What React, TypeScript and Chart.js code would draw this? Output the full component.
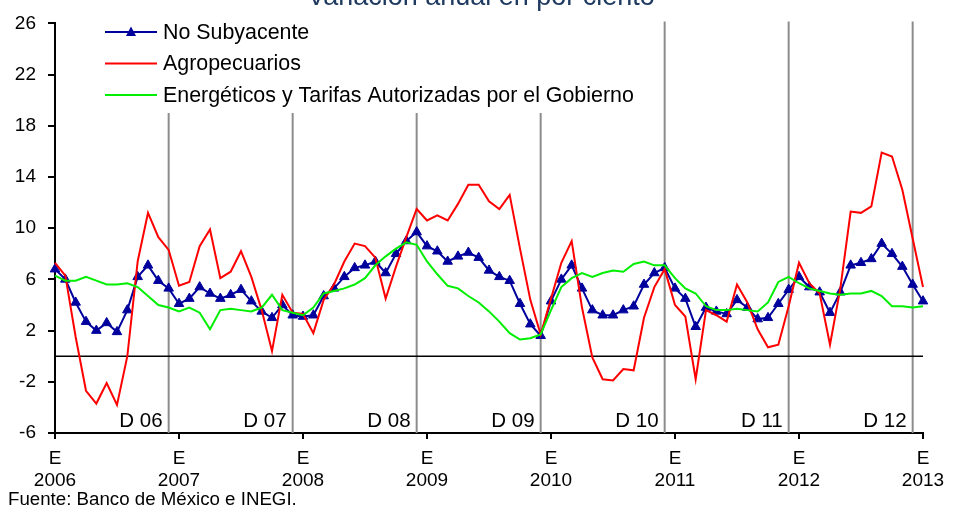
import React, { useEffect, useRef } from "react";
import { Chart, registerables } from "chart.js";

Chart.register(...registerables);

const years = [2006, 2007, 2008, 2009, 2010, 2011, 2012, 2013];
const monthInitials = ["E", "F", "M", "A", "M", "J", "J", "A", "S", "O", "N", "D"];
const decemberLabels = ["D 06", "D 07", "D 08", "D 09", "D 10", "D 11", "D 12"];

const noSubyacente = [
  6.8, 6.0, 4.2, 2.7, 2.0, 2.6, 1.9, 3.6, 6.2, 7.1, 5.9, 5.3,
  4.1, 4.5, 5.4, 4.9, 4.5, 4.8, 5.2, 4.3, 3.5, 3.0, 4.0, 3.2,
  3.1, 3.2, 4.7, 5.3, 6.2, 6.9, 7.1, 7.4, 6.5, 8.0, 9.0, 9.7,
  8.6, 8.2, 7.4, 7.8, 8.1, 7.7, 6.7, 6.2, 5.9, 4.1, 2.5, 1.6,
  4.3, 6.0, 7.1, 5.3, 3.6, 3.2, 3.2, 3.6, 3.9, 5.6, 6.5, 6.9,
  5.3, 4.5, 2.3, 3.8, 3.5, 3.3, 4.4, 3.8, 2.9, 3.0, 4.1, 5.2,
  6.2, 5.4, 5.0, 3.4, 5.0, 7.1, 7.3, 7.6, 8.8, 8.0, 7.0, 5.6,
  4.3,
];

const agropecuarios = [
  7.3, 6.3, 1.5, -2.7, -3.7, -2.1, -3.8, 0.0, 7.4, 11.2, 9.3, 8.3,
  5.5, 5.8, 8.6, 9.9, 6.1, 6.6, 8.2, 6.2, 3.6, 0.4, 4.8, 3.4,
  3.3, 1.8, 4.4, 5.6, 7.4, 8.8, 8.6, 7.7, 4.5, 7.0, 9.3, 11.5,
  10.6, 11.0, 10.6, 11.9, 13.4, 13.4, 12.1, 11.5, 12.6, 8.4, 4.4, 1.7,
  4.5, 7.3, 9.0, 3.8, -0.1, -1.8, -1.9, -1.0, -1.1, 3.0, 5.4, 6.8,
  4.0, 3.1, -1.8, 3.6, 3.2, 2.7, 5.6, 4.2, 2.1, 0.7, 0.9, 3.9,
  7.3, 5.7, 4.9, 0.9, 5.3, 11.3, 11.2, 11.7, 15.9, 15.6, 13.0, 9.2,
  5.4,
];

const energeticos = [
  6.3, 5.9, 5.9, 6.2, 5.9, 5.6, 5.6, 5.7, 5.4, 4.7, 4.0, 3.8,
  3.5, 3.8, 3.4, 2.1, 3.6, 3.7, 3.6, 3.5, 3.8, 4.8, 3.6, 3.4,
  3.2, 3.8, 4.9, 5.1, 5.3, 5.6, 6.1, 7.1, 7.8, 8.4, 8.9, 8.7,
  7.4, 6.4, 5.5, 5.3, 4.7, 4.2, 3.5, 2.7, 1.8, 1.3, 1.4, 1.7,
  3.6, 5.4, 6.1, 6.5, 6.2, 6.5, 6.7, 6.6, 7.2, 7.4, 7.1, 7.1,
  6.1, 5.3, 4.9, 3.9, 3.6, 3.6, 3.7, 3.6, 3.5, 4.2, 5.8, 6.2,
  5.7, 5.3, 5.1, 4.9, 4.8, 4.9, 4.9, 5.1, 4.7, 3.9, 3.9, 3.8,
  3.9,
];

const seriesNames = [
  "No Subyacente",
  "Agropecuarios",
  "Energéticos y Tarifas Autorizadas por el Gobierno",
];
const seriesColors = ["#00009C", "#FF0000", "#00EE00"];

const titleText = "Variación anual en por ciento";
const sourceText = "Fuente: Banco de México e INEGI.";

// month labels: one per month from E 2006 to E 2013
const monthLabels: string[] = [];
years.forEach((y, yi) => {
  monthInitials.forEach((m, mi) => {
    if (yi < years.length - 1 || mi === 0) monthLabels.push(m + " " + y);
  });
});

const FONT = "'Liberation Sans', Arial, sans-serif";

const decorPlugin = {
  id: "decor",
  beforeDatasetsDraw(chart: any) {
    const { ctx, chartArea, scales } = chart;
    const xs = scales.x;
    const ys = scales.y;
    const legendBottom = 113;
    const legendRight = 645;
    ctx.save();
    let d = 0;
    monthLabels.forEach((lab, i) => {
      if (lab.startsWith("D ")) {
        const x = xs.getPixelForValue(i);
        const top = x < legendRight ? legendBottom : chartArea.top - 2;
        ctx.strokeStyle = "#8C8C8C";
        ctx.lineWidth = 2;
        ctx.beginPath();
        ctx.moveTo(x, top);
        ctx.lineTo(x, chartArea.bottom);
        ctx.stroke();
        ctx.fillStyle = "#000";
        ctx.font = "20.5px " + FONT;
        ctx.textAlign = "right";
        ctx.textBaseline = "alphabetic";
        ctx.fillText(decemberLabels[d], x - 6, chartArea.bottom - 6);
        d++;
      }
    });
    const y0 = ys.getPixelForValue(0);
    ctx.strokeStyle = "#000";
    ctx.lineWidth = 1.5;
    ctx.beginPath();
    ctx.moveTo(chartArea.left, y0);
    ctx.lineTo(chartArea.right, y0);
    ctx.stroke();
    ctx.restore();
  },
  afterDraw(chart: any) {
    const { ctx } = chart;
    ctx.save();
    ctx.fillStyle = "#1F3A60";
    ctx.font = "27px " + FONT;
    ctx.textAlign = "center";
    ctx.textBaseline = "alphabetic";
    ctx.fillText(titleText, 481, 5);
    const rows = [32, 63.5, 95];
    seriesNames.forEach((name, i) => {
      const y = rows[i];
      ctx.strokeStyle = seriesColors[i];
      ctx.lineWidth = 2;
      ctx.beginPath();
      ctx.moveTo(105, y);
      ctx.lineTo(157, y);
      ctx.stroke();
      if (i === 0) {
        ctx.fillStyle = seriesColors[0];
        ctx.beginPath();
        ctx.moveTo(131, y - 5.5);
        ctx.lineTo(136, y + 4);
        ctx.lineTo(126, y + 4);
        ctx.closePath();
        ctx.fill();
      }
      ctx.fillStyle = "#000";
      ctx.font = "21.4px " + FONT;
      ctx.textAlign = "left";
      ctx.textBaseline = "middle";
      ctx.fillText(name, 163, y + 1);
    });
    ctx.font = "18.7px " + FONT;
    ctx.textBaseline = "alphabetic";
    ctx.fillStyle = "#000";
    ctx.fillText(sourceText, 8, 505);
    ctx.restore();
  },
};

export default function App() {
  const ref = useRef<HTMLCanvasElement | null>(null);
  useEffect(() => {
    if (!ref.current) return;
    const chart = new Chart(ref.current, {
      type: "line",
      data: {
        labels: monthLabels,
        datasets: [
          {
            label: seriesNames[0],
            data: noSubyacente,
            borderColor: seriesColors[0],
            backgroundColor: seriesColors[0],
            borderWidth: 2,
            pointStyle: "triangle",
            pointRadius: 5.5,
            pointBorderWidth: 1,
            tension: 0,
            order: 3,
          },
          {
            label: seriesNames[1],
            data: agropecuarios,
            borderColor: seriesColors[1],
            borderWidth: 2,
            pointRadius: 0,
            tension: 0,
            order: 2,
          },
          {
            label: seriesNames[2],
            data: energeticos,
            borderColor: seriesColors[2],
            borderWidth: 2,
            pointRadius: 0,
            tension: 0,
            order: 1,
          },
        ],
      },
      options: {
        animation: false,
        responsive: false,
        maintainAspectRatio: false,
        layout: { padding: { left: 0, right: 33, top: 22, bottom: 0 } },
        plugins: {
          legend: { display: false },
          title: { display: false },
          tooltip: { enabled: false },
        },
        scales: {
          x: {
            type: "category",
            offset: false,
            grid: {
              display: true,
              drawOnChartArea: false,
              drawTicks: true,
              tickLength: 6,
              color: "#000",
              lineWidth: 2,
            },
            border: { display: true, color: "#000", width: 2 },
            ticks: {
              autoSkip: false,
              maxRotation: 0,
              minRotation: 0,
              padding: 9,
              color: "#000",
              font: { family: FONT, size: 19, lineHeight: 1.15 },
              callback: (_v: any, i: number) =>
                i % 12 === 0 ? ["E", String(years[i / 12])] : null,
            },
            afterFit: (s: any) => {
              s.height = 76;
            },
          },
          y: {
            min: -6,
            max: 26,
            grid: {
              display: true,
              drawOnChartArea: false,
              drawTicks: true,
              tickLength: 7,
              color: "#000",
              lineWidth: 2,
            },
            border: { display: true, color: "#000", width: 2 },
            ticks: {
              stepSize: 4,
              padding: 12,
              color: "#000",
              font: { family: FONT, size: 19 },
            },
            afterFit: (s: any) => {
              s.width = 55;
            },
          },
        },
      },
      plugins: [decorPlugin],
    });
    return () => chart.destroy();
  }, []);
  return (
    <div style={{ position: "fixed", left: 0, top: 0, width: 956, height: 509, background: "#fff" }}>
      <canvas ref={ref} width={956} height={509} style={{ display: "block" }} />
    </div>
  );
}
